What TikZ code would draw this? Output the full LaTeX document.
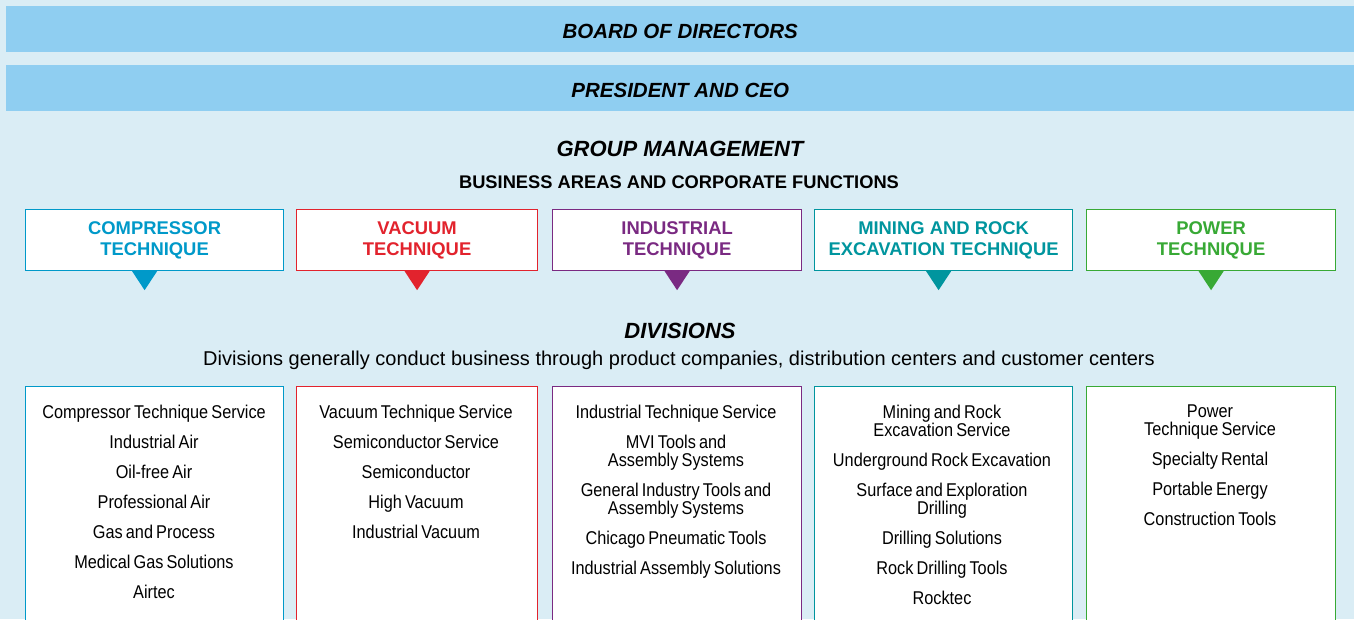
\documentclass[tikz,border=0pt]{standalone}
\usepackage{fontspec}
\setmainfont{Liberation Sans}
\newfontfamily\itemfont[FakeStretch=0.88,WordSpace=0.7]{Liberation Sans}

\definecolor{bgblue}{HTML}{DAEDF5}
\definecolor{barblue}{HTML}{8FCEF1}
\definecolor{ctblue}{HTML}{0099C9}
\definecolor{vtred}{HTML}{E2232D}
\definecolor{itpurple}{HTML}{7A2A82}
\definecolor{mrteal}{HTML}{00959E}
\definecolor{ptgreen}{HTML}{38A935}

\tikzset{
	bar/.style={fill=barblue, minimum height=46pt, inner sep=0pt, anchor=north west,
		text height=18pt, text depth=0pt,
		font=\bfseries\itshape\fontsize{20.5}{24}\selectfont},
	heading/.style={font=\bfseries\itshape\fontsize{22}{26}\selectfont},
	area/.style={draw=#1, line width=1.2pt, fill=white, text=#1, align=center,
		minimum height=61pt, inner sep=0pt, anchor=north west,
		font=\bfseries\fontsize{18.4}{21}\selectfont},
	divbox/.style={draw=#1, line width=1.2pt, fill=white, minimum height=250pt,
		inner sep=0pt, anchor=north west},
	divlist/.style={align=center, inner sep=0pt, anchor=north,
		font=\itemfont\fontsize{18.5}{18}\selectfont}
}

\begin{document}
\begin{tikzpicture}[x=1pt, y=-1pt]
	\useasboundingbox (0,0) rectangle (1354,619);
	\fill[bgblue] (0,0) rectangle (1354,619);
	% top of the chart
	\node[bar, minimum width=1348pt] (board) at (6,6) {BOARD OF DIRECTORS};
	\node[bar, minimum width=1348pt] (ceo) at (6,65) {PRESIDENT AND CEO};
	\node[heading] (gm) at (680,149) {GROUP MANAGEMENT};
	\node[font=\bfseries\fontsize{18.3}{22}\selectfont] (areas) at (679,182) {BUSINESS AREAS AND CORPORATE FUNCTIONS};
	\node[heading] (divs) at (680,331) {DIVISIONS};
	\node[font=\fontsize{20}{24}\selectfont] (divsub) at (679,360) {Divisions generally conduct business through product companies, distribution centers and customer centers};
	% business areas, pointers and division frames
	\foreach \n/\x/\w/\col/\off/\txt in {
		comp/25/258/ctblue/-10/{COMPRESSOR\\TECHNIQUE},
		vac/296/241/vtred/0/{VACUUM\\TECHNIQUE},
		ind/552/249/itpurple/0/{INDUSTRIAL\\TECHNIQUE},
		mrt/814/258/mrteal/-5/{MINING AND ROCK\\EXCAVATION TECHNIQUE},
		pow/1086/249/ptgreen/0/{POWER\\TECHNIQUE}}
		{
		   \node[area=\col, minimum width=\w pt] (\n) at (\x,209) {\txt};
		   \fill[\col] ([xshift=\off pt]\n.south) ++(-12.5,0) -- ++(25,0) -- ++(-12.5,19) -- cycle;
		   \node[divbox=\col, minimum width=\w pt] (\n div) at (\x,386) {};
		};
	% division lists
	\node[divlist] (complist) at (154,405) {Compressor Technique Service\\[12pt]Industrial Air\\[12pt]Oil-free Air\\[12pt]Professional Air\\[12pt]Gas and Process\\[12pt]Medical Gas Solutions\\[12pt]Airtec};
	\node[divlist] (vaclist) at (416,405) {Vacuum Technique Service\\[12pt]Semiconductor Service\\[12pt]Semiconductor\\[12pt]High Vacuum\\[12pt]Industrial Vacuum};
	\node[divlist] (indlist) at (676,405) {Industrial Technique Service\\[12pt]MVI Tools and\\Assembly Systems\\[12pt]General Industry Tools and\\Assembly Systems\\[12pt]Chicago Pneumatic Tools\\[12pt]Industrial Assembly Solutions};
	\node[divlist] (mrtlist) at (942,405) {Mining and Rock\\Excavation Service\\[12pt]Underground Rock Excavation\\[12pt]Surface and Exploration\\Drilling\\[12pt]Drilling Solutions\\[12pt]Rock Drilling Tools\\[12pt]Rocktec};
	\node[divlist] (powlist) at (1210,405) {Power\\Technique Service\\[12pt]Specialty Rental\\[12pt]Portable Energy\\[12pt]Construction Tools};
\end{tikzpicture}
\end{document}
